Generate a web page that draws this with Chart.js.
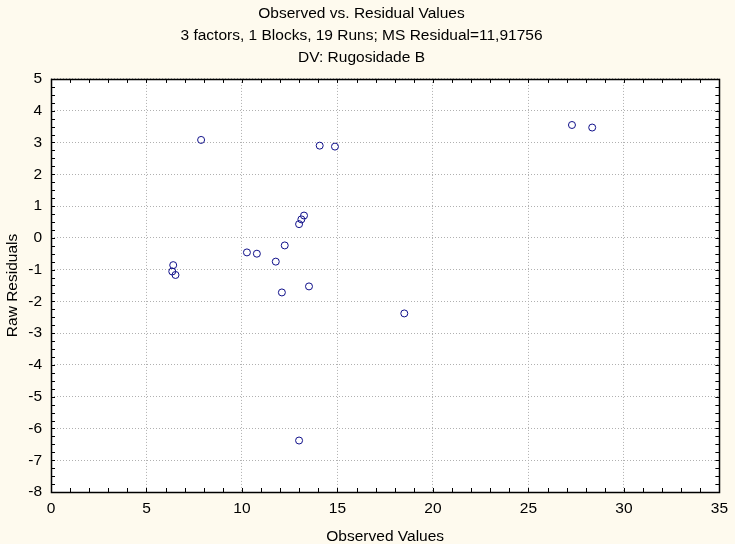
<!DOCTYPE html>
<html>
<head>
<meta charset="utf-8">
<script src="https://cdn.jsdelivr.net/npm/chart.js@4.4.1/dist/chart.umd.min.js"></script>
<style>
  html, body { margin: 0; padding: 0; background: #fefaee; }
  #wrap { width: 735px; height: 544px; position: relative; }
</style>
</head>
<body>
<div id="wrap"><canvas id="residChart"></canvas></div>
<script>
// observed values vs raw residuals (19 runs)
const observed = [7.86, 14.07, 14.87, 27.28, 28.34, 13.25, 13.11, 12.99, 12.24, 10.26,
                  10.78, 11.77, 6.40, 6.35, 6.52, 13.51, 12.09, 18.50, 12.99];
const residuals = [3.08, 2.90, 2.87, 3.55, 3.47, 0.70, 0.58, 0.43, -0.24, -0.46,
                   -0.50, -0.75, -0.86, -1.06, -1.17, -1.53, -1.72, -2.38, -6.38];

const xTickValues = [0, 5, 10, 15, 20, 25, 30, 35];
const yTickValues = [-8, -7, -6, -5, -4, -3, -2, -1, 0, 1, 2, 3, 4, 5];

const titleLines = [
    'Observed vs. Residual Values',
    '3 factors, 1 Blocks, 19 Runs; MS Residual=11,91756',
    'DV: Rugosidade B'
];

const font = '"Liberation Sans", Arial, sans-serif';

// white plot area, black frame, small inward ticks on all sides
const framePlugin = {
    id: 'frame',
    beforeDraw(chart) {
        const a = chart.chartArea;
        const ctx = chart.ctx;
        ctx.save();
        ctx.fillStyle = '#ffffff';
        ctx.fillRect(a.left, a.top, a.right - a.left, a.bottom - a.top);
        ctx.restore();
    },
    afterDraw(chart) {
        const a = chart.chartArea;
        const ctx = chart.ctx;
        const xs = chart.scales.x, ys = chart.scales.y;
        const len = 4;
        ctx.save();
        ctx.strokeStyle = '#000';
        ctx.lineWidth = 1;
        ctx.beginPath();
        for (let v = xs.min; v <= xs.max + 1e-9; v += 1) {
            const px = Math.round(xs.getPixelForValue(v)) + 0.5;
            ctx.moveTo(px, a.bottom); ctx.lineTo(px, a.bottom - len);
            ctx.moveTo(px, a.top); ctx.lineTo(px, a.top + len);
        }
        for (let v = ys.min; v <= ys.max + 1e-9; v += 0.25) {
            const py = Math.round(ys.getPixelForValue(v)) + 0.5;
            ctx.moveTo(a.left, py); ctx.lineTo(a.left + len, py);
            ctx.moveTo(a.right, py); ctx.lineTo(a.right - len, py);
        }
        ctx.stroke();
        ctx.lineWidth = 1.5;
        ctx.strokeRect(Math.round(a.left) + 0.5, Math.round(a.top) + 0.5,
                       Math.round(a.right - a.left), Math.round(a.bottom - a.top));
        ctx.restore();
    }
};

const config = {
    type: 'scatter',
    data: {
        datasets: [{
            label: 'Residuals',
            data: observed.map((x, i) => ({ x: x, y: residuals[i] })),
            pointRadius: 3.5,
            pointHoverRadius: 3.5,
            pointBorderWidth: 1,
            pointBorderColor: '#10108a',
            pointBackgroundColor: 'rgba(0,0,0,0)'
        }]
    },
    plugins: [framePlugin],
    options: {
        responsive: true,
        maintainAspectRatio: false,
        animation: false,
        layout: {
            padding: { top: 0, left: 0, right: 12, bottom: 0 }
        },
        scales: {
            x: {
                type: 'linear',
                min: 0,
                max: 35,
                afterBuildTicks: s => { s.ticks = xTickValues.map(v => ({ value: v })); },
                afterFit: s => { s.height = 52; },
                grid: {
                    color: '#b0b0b0',
                    lineWidth: 1,
                    drawTicks: false
                },
                border: { display: false, dash: [1, 2] },
                ticks: {
                    color: '#000',
                    padding: 7,
                    maxRotation: 0,
                    font: { family: font, size: 15.5 }
                },
                title: {
                    display: true,
                    text: 'Observed Values',
                    color: '#000',
                    padding: { top: 0, bottom: 0 },
                    font: { family: font, size: 15.5, lineHeight: 1 }
                }
            },
            y: {
                type: 'linear',
                min: -8,
                max: 5,
                afterBuildTicks: s => { s.ticks = yTickValues.map(v => ({ value: v })); },
                afterFit: s => { s.width = 51; },
                grid: {
                    color: '#b0b0b0',
                    lineWidth: 1,
                    drawTicks: false
                },
                border: { display: false, dash: [1, 2] },
                ticks: {
                    color: '#000',
                    padding: 9,
                    font: { family: font, size: 15.5 }
                },
                title: {
                    display: true,
                    text: 'Raw Residuals',
                    color: '#000',
                    padding: { top: 3, bottom: 0 },
                    font: { family: font, size: 15.5, lineHeight: 1.2 }
                }
            }
        },
        plugins: {
            legend: { display: false },
            tooltip: { enabled: false },
            title: {
                display: true,
                text: titleLines,
                color: '#000',
                padding: { top: 2, bottom: 9.5 },
                font: { family: font, size: 15.5, weight: 'normal', lineHeight: 1.45 }
            }
        }
    }
};

const ctx = document.getElementById('residChart').getContext('2d');
new Chart(ctx, config);
</script>
</body>
</html>
